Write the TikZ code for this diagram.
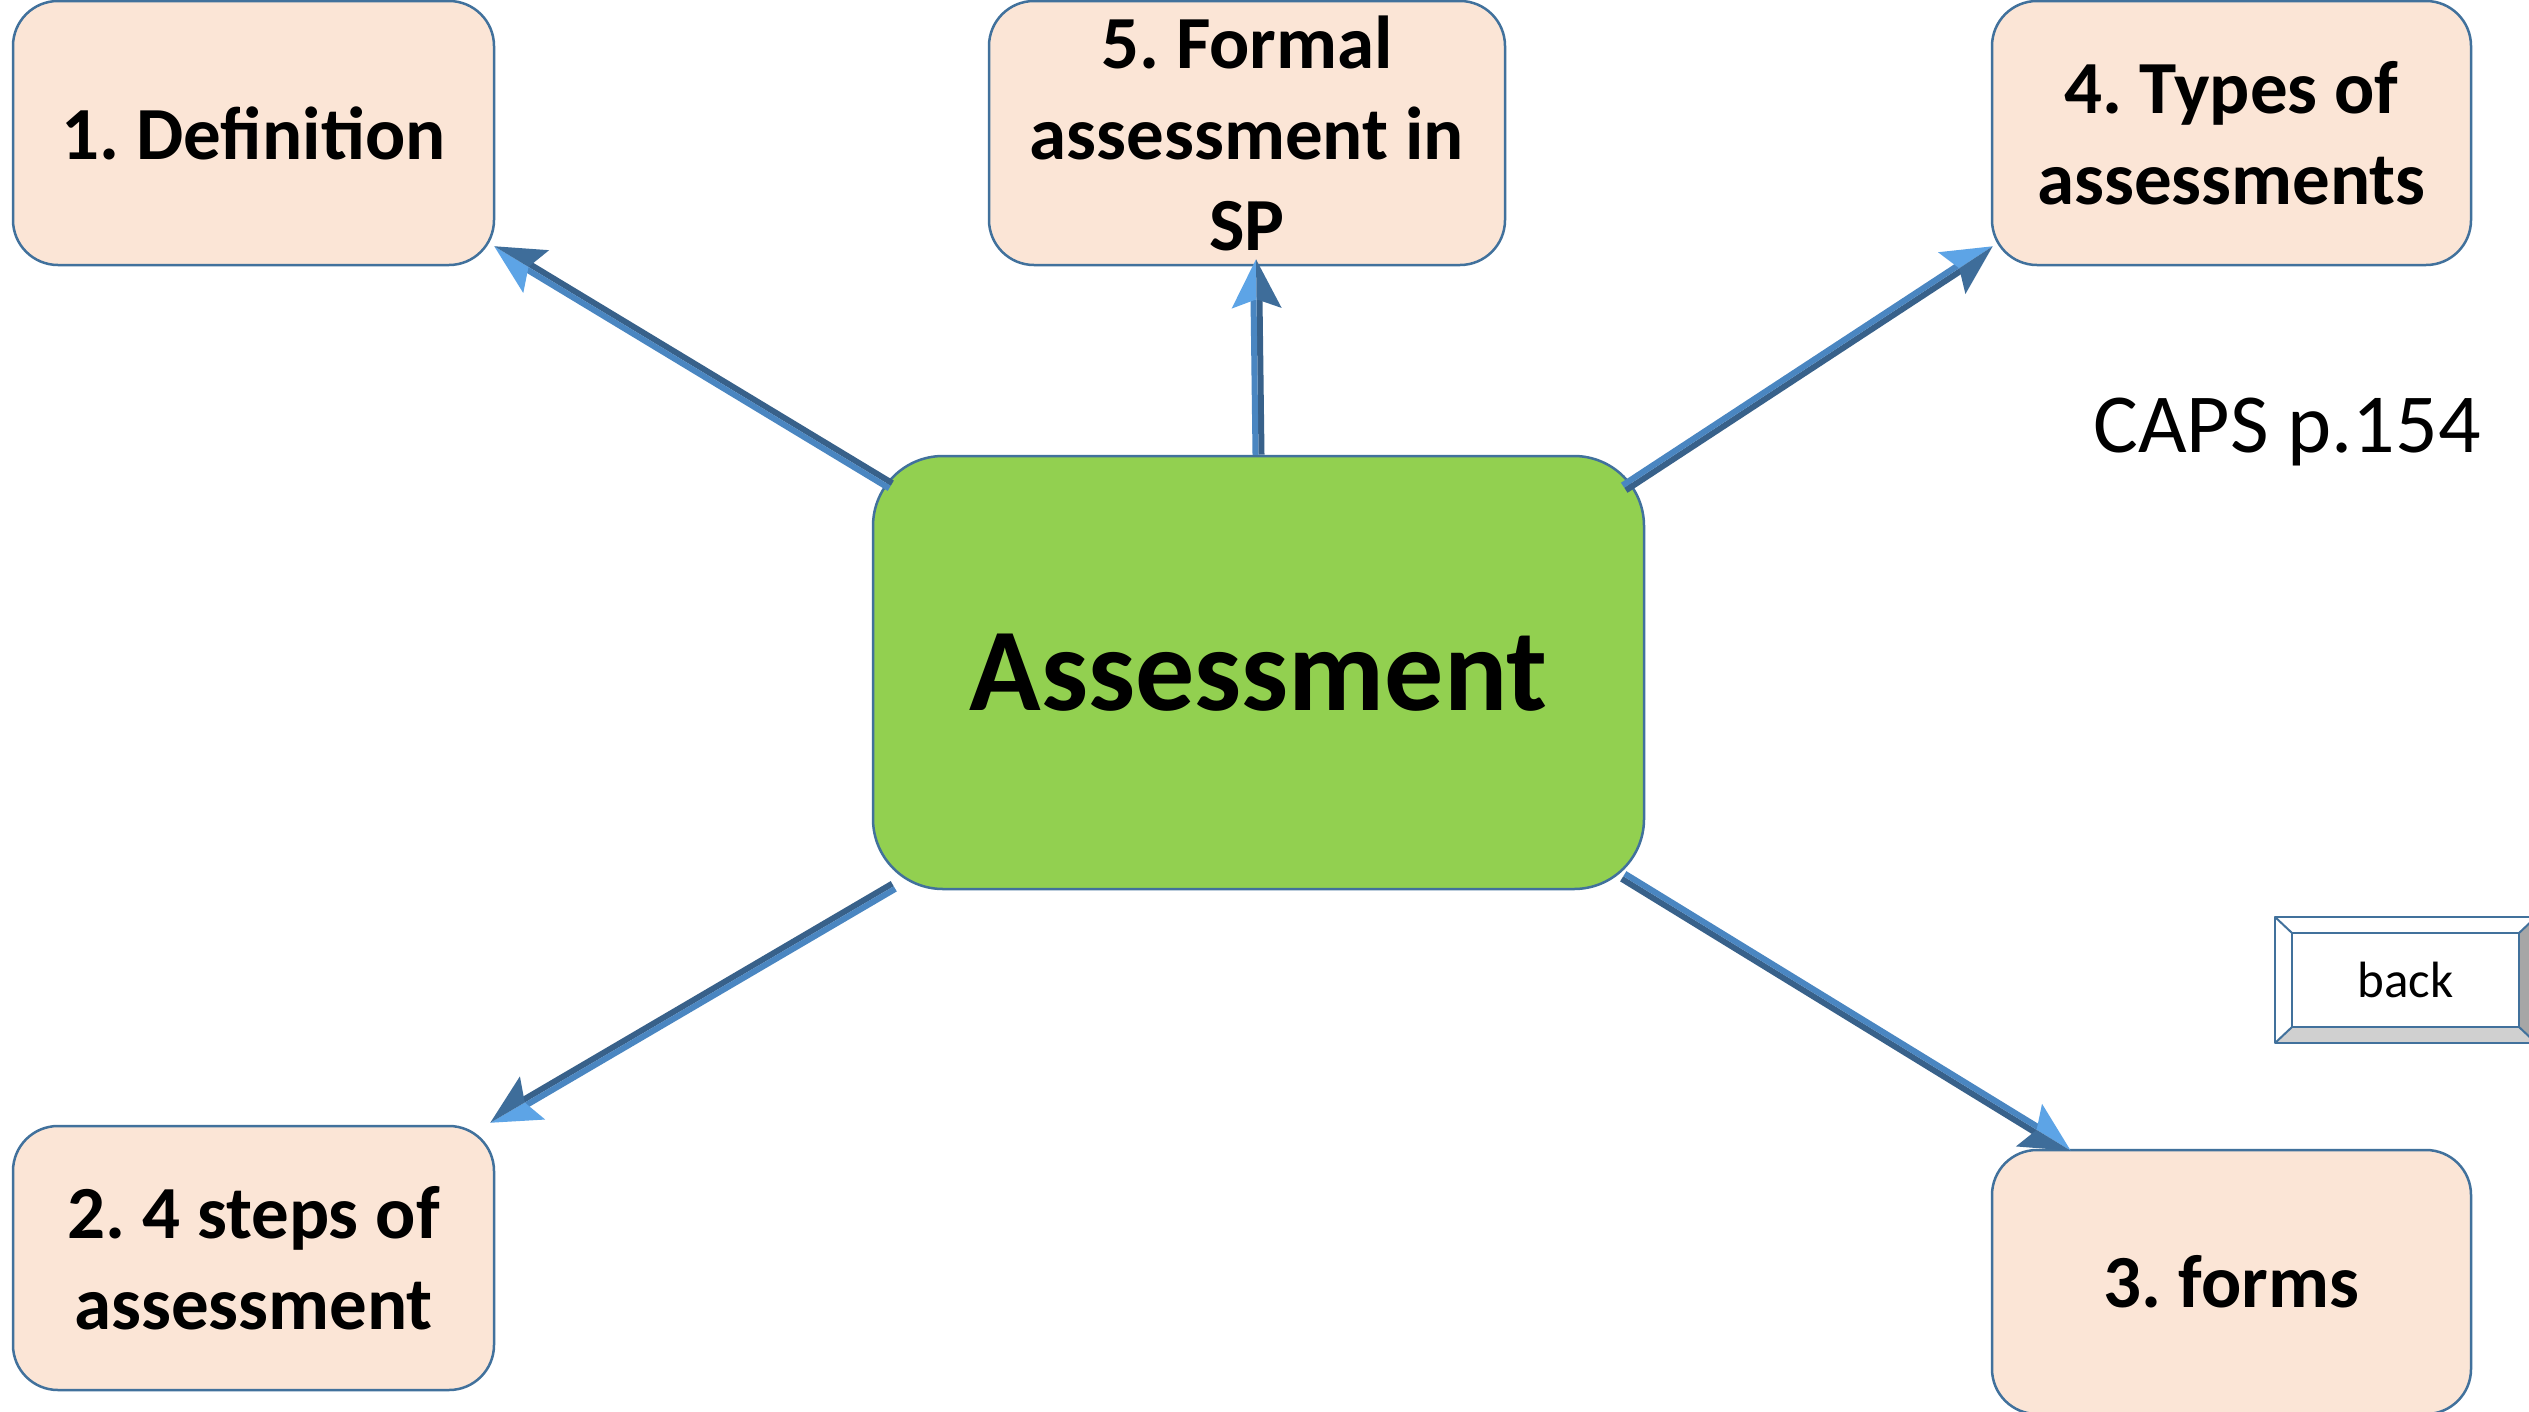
\documentclass[tikz,border=0pt]{standalone}
\usepackage{fontspec}
\setmainfont{Carlito}
\frenchspacing
\usetikzlibrary{calc}
\definecolor{peach}{HTML}{FBE5D6}
\definecolor{bord}{HTML}{41719C}
\definecolor{grn}{HTML}{92D050}
\definecolor{amid}{HTML}{4A86C1}
\definecolor{adark}{HTML}{38618A}
\definecolor{alight}{HTML}{5DA4E6}
\definecolor{ahdark}{HTML}{3E6D9A}
\definecolor{bevlo}{HTML}{D0D0D0}
\definecolor{bevri}{HTML}{A6A6A6}

\newcommand\bluearrow[2]{%
  \path (#1); \pgfgetlastxy{\axx}{\ayy}%
  \path (#2); \pgfgetlastxy{\bxx}{\byy}%
  \pgfmathsetmacro\aang{atan2((\byy)-(\ayy),(\bxx)-(\axx))}%
  \pgfmathsetmacro\alen{veclen((\bxx)-(\axx),(\byy)-(\ayy))}%
  \begin{scope}[shift={(#1)},rotate=\aang,x=1pt,y=1pt]
    \fill[adark] (0,-6) rectangle (\alen-40,0);
    \fill[amid] (0,0) rectangle (\alen-40,6);
    \fill[alight] (\alen,0) -- (\alen-49,25) -- (\alen-40,0) -- cycle;
    \fill[ahdark] (\alen,0) -- (\alen-40,0) -- (\alen-49,-25) -- cycle;
  \end{scope}%
}

\tikzset{
  topic/.style={draw=bord, line width=2.5pt, fill=peach, rounded corners=45pt,
    inner sep=0pt, align=center, minimum height=264pt,
    font=\fontsize{75}{91}\selectfont\bfseries},
  hub/.style={draw=bord, line width=2.5pt, fill=grn, rounded corners=70pt,
    inner sep=0pt, align=center, minimum width=771pt, minimum height=433pt,
    font=\fontsize{118}{130}\selectfont\bfseries},
  bevel/.style={draw=bord, line width=2pt, line join=round}
}

\begin{document}
\begin{tikzpicture}[x=1pt,y=-1pt]
\useasboundingbox (0,0) rectangle (2529,1411);
\clip (0,0) rectangle (2529,1411);
\fill[white] (0,0) rectangle (2529,1411);

\node[topic, minimum width=481pt] (def) at (253.5,133) {1. Definition};
\node[topic, minimum width=516pt] (formal) at (1247,133) {5. Formal\\assessment in\\SP};
\node[topic, minimum width=479pt] (types) at (2231.5,133) {4. Types of\\assessments};
\node[topic, minimum width=481pt] (steps) at (253.5,1258) {2. 4 steps of\\assessment};
\node[topic, minimum width=479pt] (forms) at (2231.5,1282) {3. forms};
\node[hub] (ctr) at (1258.5,672.5) {Assessment};

\node[anchor=base west, inner sep=0pt, font=\fontsize{84}{100}\selectfont] (caps) at (2093,452) {CAPS p.154};

% back button
\fill[white] (2275,917) rectangle (2536,1043);
\fill[bevlo] (2275,1043) -- (2292,1027) -- (2519,1027) -- (2536,1043) -- cycle;
\fill[bevri] (2536,917) -- (2519,933) -- (2519,1027) -- (2536,1043) -- cycle;
\draw[bevel] (2275,917) rectangle (2536,1043);
\draw[bevel] (2292,933) rectangle (2519,1027);
\draw[bevel] (2275,917) -- (2292,933) (2536,917) -- (2519,933)
  (2275,1043) -- (2292,1027) (2536,1043) -- (2519,1027);
\node[font=\fontsize{51}{60}\selectfont, inner sep=0pt] (back) at (2405.5,980) {back};

% connectors
\coordinate (a1s) at ([shift={(19,31)}]ctr.north west);
\coordinate (a1e) at ([shift={(-1,-20)}]def.south east);
\coordinate (a2s) at (ctr.north);
\coordinate (a2e) at ([shift={(9,-7)}]formal.south);
\coordinate (a3s) at ([shift={(-21,33)}]ctr.north east);
\coordinate (a3e) at ([shift={(2,-20)}]types.south west);
\coordinate (a4s) at ([shift={(22,-4)}]ctr.south west);
\coordinate (a4e) at ([shift={(-5,-2)}]steps.north east);
\coordinate (a5s) at ([shift={(-22,-14)}]ctr.south east);
\coordinate (a5e) at ([shift={(80,2)}]forms.north west);
\bluearrow{a1s}{a1e}
\bluearrow{a2s}{a2e}
\bluearrow{a3s}{a3e}
\bluearrow{a4s}{a4e}
\bluearrow{a5s}{a5e}
\end{tikzpicture}
\end{document}
